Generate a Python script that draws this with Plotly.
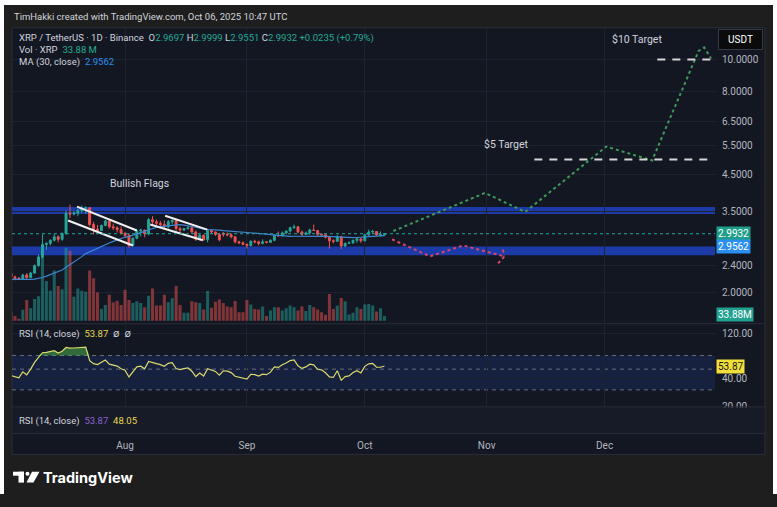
import numpy as np
import pandas as pd
import plotly.graph_objects as go

W, H = 777, 507
H_FIG = 499  # the page is rendered ~8px taller than the figure; keep drawing 1:1

# ---------------- data ----------------
dates = pd.date_range("2025-07-03", "2025-10-06", freq="D")

open_ = [2.28, 2.22, 2.20, 2.19, 2.25, 2.21, 2.28, 2.40, 2.55, 2.78, 2.80, 2.86, 2.93, 2.88, 3.00, 3.45,
         3.43, 3.45, 3.51, 3.56, 3.58, 3.19, 3.09, 3.06, 3.17, 3.27, 3.14, 3.12, 3.08, 3.00, 2.96, 2.76,
         2.90, 3.05, 3.07, 2.99, 3.30, 3.25, 3.22, 3.19, 3.14, 3.25, 3.28, 3.10, 3.07, 3.10, 3.12, 3.03,
         2.88, 2.96, 2.87, 3.06, 3.03, 2.98, 3.00, 2.98, 2.97, 2.93, 2.83, 2.81, 2.78, 2.76, 2.84, 2.83,
         2.80, 2.83, 2.82, 2.86, 2.96, 2.95, 3.01, 3.05, 3.12, 3.14, 3.03, 2.98, 3.01, 3.07, 3.06, 2.98,
         2.97, 2.92, 2.85, 2.84, 2.93, 2.75, 2.80, 2.81, 2.86, 2.89, 2.85, 2.97, 3.03, 3.04, 2.96, 2.9697]
high = [2.31, 2.24, 2.22, 2.27, 2.28, 2.30, 2.42, 2.59, 2.98, 2.82, 2.88, 2.99, 2.96, 3.02, 3.51, 3.66,
        3.50, 3.55, 3.64, 3.62, 3.60, 3.25, 3.18, 3.19, 3.30, 3.30, 3.21, 3.15, 3.15, 3.03, 3.00, 2.92,
        3.08, 3.10, 3.08, 3.34, 3.38, 3.30, 3.27, 3.28, 3.29, 3.33, 3.30, 3.14, 3.12, 3.15, 3.13, 3.06,
        3.00, 2.98, 3.09, 3.08, 3.04, 3.01, 3.03, 3.02, 3.00, 2.94, 2.85, 2.84, 2.80, 2.86, 2.87, 2.85,
        2.88, 2.84, 2.88, 2.98, 3.04, 3.04, 3.06, 3.14, 3.19, 3.15, 3.06, 3.04, 3.10, 3.19, 3.07, 3.00,
        2.99, 2.93, 2.88, 2.97, 2.95, 2.82, 2.84, 2.87, 2.92, 2.90, 2.99, 3.08, 3.08, 3.05, 3.04, 2.9999]
low = [2.20, 2.17, 2.18, 2.18, 2.19, 2.20, 2.27, 2.38, 2.52, 2.68, 2.76, 2.84, 2.82, 2.85, 2.97, 3.33,
       3.40, 3.38, 3.45, 3.43, 3.15, 2.98, 3.03, 3.05, 3.15, 3.10, 3.07, 3.02, 2.98, 2.92, 2.72, 2.74,
       2.88, 2.94, 2.92, 2.96, 3.19, 3.18, 3.15, 3.08, 3.10, 3.19, 3.05, 3.03, 3.05, 3.08, 2.99, 2.85,
       2.86, 2.85, 2.82, 3.00, 2.95, 2.84, 2.93, 2.94, 2.90, 2.80, 2.79, 2.77, 2.70, 2.74, 2.80, 2.76,
       2.78, 2.80, 2.81, 2.84, 2.94, 2.94, 2.98, 3.02, 3.10, 3.00, 2.95, 2.97, 2.97, 3.05, 2.95, 2.95,
       2.90, 2.70, 2.80, 2.83, 2.69, 2.73, 2.79, 2.79, 2.81, 2.81, 2.84, 2.95, 2.99, 2.95, 2.93, 2.9551]
close = [2.22, 2.20, 2.19, 2.25, 2.21, 2.28, 2.40, 2.55, 2.78, 2.80, 2.86, 2.93, 2.88, 3.00, 3.45, 3.43,
         3.45, 3.51, 3.56, 3.58, 3.19, 3.09, 3.06, 3.17, 3.27, 3.14, 3.12, 3.08, 3.00, 2.96, 2.76, 2.90,
         3.05, 3.07, 2.99, 3.30, 3.25, 3.22, 3.19, 3.14, 3.25, 3.28, 3.10, 3.07, 3.10, 3.12, 3.03, 2.88,
         2.96, 2.87, 3.06, 3.03, 2.98, 2.87, 2.98, 2.97, 2.93, 2.83, 2.81, 2.78, 2.76, 2.84, 2.83, 2.80,
         2.83, 2.82, 2.86, 2.96, 2.95, 3.01, 3.05, 3.12, 3.14, 3.03, 2.98, 3.01, 3.07, 3.06, 2.98, 2.97,
         2.92, 2.85, 2.84, 2.93, 2.75, 2.80, 2.81, 2.86, 2.89, 2.85, 2.97, 3.03, 3.04, 2.97, 2.97, 2.9932]
volume_m = [67, 34, 14, 79, 151, 91, 158, 178, 533, 290, 218, 367, 254, 230, 533, 511,
            175, 235, 218, 211, 367, 310, 206, 86, 115, 190, 134, 146, 115, 226, 151, 130,
            142, 130, 98, 182, 235, 110, 110, 190, 134, 163, 254, 115, 58, 58, 142, 134,
            130, 82, 216, 94, 139, 154, 130, 103, 98, 144, 62, 62, 151, 118, 86, 82,
            103, 34, 74, 98, 98, 74, 91, 110, 98, 74, 103, 70, 115, 98, 82, 62,
            43, 194, 86, 110, 166, 142, 46, 58, 98, 86, 118, 122, 110, 67, 91, 33.88]
# closes before the visible window (warm-up for MA / RSI)
june_close = [2.24, 2.16, 2.19, 2.23, 2.26, 2.30, 2.33, 2.27, 2.19, 2.15, 2.17, 2.18, 2.23, 2.17, 2.17,
              2.16, 2.11, 2.04, 1.97, 2.17, 2.18, 2.18, 2.11, 2.13, 2.17, 2.21, 2.18, 2.18, 2.21]

ma_period = 30
rsi_period = 14

month_ticks = ["2025-08-01", "2025-09-01", "2025-10-01", "2025-11-01", "2025-12-01"]
month_labels = ["Aug", "Sep", "Oct", "Nov", "Dec"]
price_ticks = [2.0, 2.4, 3.5, 4.5, 5.5, 6.5, 8.0, 10.0]
rsi_ticks = [20, 40, 120]
rsi_levels = [30, 50, 70]

upper_zone = [3.43, 3.60]
lower_zone = [2.58, 2.74]

flag1_upper_d = ["2025-07-19 19:00", "2025-08-04 00:00"]
flag1_upper_p = [3.61, 3.06]
flag1_lower_d = ["2025-07-17 12:00", "2025-08-03 00:00"]
flag1_lower_p = [3.28, 2.76]
flag2_upper_d = ["2025-08-11 05:00", "2025-08-21 22:00"]
flag2_upper_p = [3.39, 3.08]
flag2_lower_d = ["2025-08-07 10:00", "2025-08-20 19:00"]
flag2_lower_p = [3.19, 2.86]

bull_d = ["2025-10-08 06:00", "2025-10-31 14:00", "2025-11-10 19:00", "2025-12-01 10:00",
          "2025-12-13 02:00", "2025-12-24 22:00", "2025-12-26 08:00", "2025-12-28 02:00"]
bull_p = [3.05, 3.97, 3.48, 5.47, 4.97, 10.6, 10.86, 10.07]
bear_d = ["2025-10-07 22:00", "2025-10-17 14:00", "2025-10-26 00:00", "2025-11-05 10:00", None,
          "2025-11-03 22:00", "2025-11-05 22:00", None, "2025-11-05 04:00", "2025-11-05 10:00"]
bear_p = [2.88, 2.56, 2.76, 2.56, None, 2.44, 2.59, None, 2.68, 2.56]

target5_d = ["2025-11-13 03:00", "2025-12-27 03:00"]
target5_p = [5.0, 5.0]
target10_d = ["2025-12-14 10:00", "2025-12-28 22:00"]
target10_p = [10.0, 10.0]

last_price = 2.9932
last_ma_label = 2.9562
last_rsi_label = 53.87

# ---------------- derived series ----------------
all_close = pd.Series(june_close + close, dtype=float)
ma = all_close.rolling(ma_period).mean().iloc[len(june_close):].to_numpy()
delta = all_close.diff()
gain = delta.clip(lower=0)
loss = -delta.clip(upper=0)
avg_g = gain.ewm(alpha=1 / rsi_period, adjust=False).mean()
avg_l = loss.ewm(alpha=1 / rsi_period, adjust=False).mean()
rsi_all = 100 - 100 / (1 + avg_g / avg_l)
rsi = rsi_all.iloc[len(june_close):].to_numpy()

UP = "#26a69a"
DN = "#ef5350"
vol_colors = ["rgba(38,166,154,0.5)" if c >= o else "rgba(239,83,80,0.5)" for o, c in zip(open_, close)]

BG = "#131722"
GRID = "#1f2330"
AXT = "#b2b5be"
FONT = "Roboto, Inter, sans-serif"


def px(x):
    return x / W


def py(y):
    return 1 - y / H_FIG


fig = go.Figure()

fig.add_trace(go.Bar(x=dates, y=volume_m, marker=dict(color=vol_colors, line=dict(width=0)),
                     xaxis="x", yaxis="y", hoverinfo="skip", showlegend=False))
fig.add_trace(go.Candlestick(x=dates, open=open_, high=high, low=low, close=close,
                             xaxis="x", yaxis="y2", whiskerwidth=0,
                             increasing=dict(line=dict(color=UP, width=1), fillcolor=UP),
                             decreasing=dict(line=dict(color=DN, width=1), fillcolor=DN),
                             showlegend=False, hoverinfo="skip"))
fig.add_trace(go.Scatter(x=dates, y=ma, mode="lines", line=dict(color="#3d86d0", width=1.2),
                         xaxis="x", yaxis="y2", showlegend=False, hoverinfo="skip"))
for fd, fp in [(flag1_upper_d, flag1_upper_p), (flag1_lower_d, flag1_lower_p),
               (flag2_upper_d, flag2_upper_p), (flag2_lower_d, flag2_lower_p)]:
    fig.add_trace(go.Scatter(x=fd, y=fp, mode="lines", line=dict(color="#f0f0f0", width=2),
                             xaxis="x", yaxis="y2", showlegend=False, hoverinfo="skip"))
fig.add_trace(go.Scatter(x=bull_d, y=bull_p, mode="lines", line=dict(color="#3f9a5a", width=2, dash="dot"),
                         xaxis="x", yaxis="y2", showlegend=False, hoverinfo="skip"))
fig.add_trace(go.Scatter(x=bear_d, y=bear_p, mode="lines", line=dict(color="#d9466a", width=2, dash="dot"),
                         xaxis="x", yaxis="y2", showlegend=False, hoverinfo="skip", connectgaps=False))
for td, tp in [(target5_d, target5_p), (target10_d, target10_p)]:
    fig.add_trace(go.Scatter(x=td, y=tp, mode="lines", line=dict(color="#d6d6d6", width=2, dash="8px,7px"),
                             xaxis="x", yaxis="y2", showlegend=False, hoverinfo="skip"))

# RSI
fig.add_trace(go.Scatter(x=dates, y=[70] * len(dates), mode="lines", line=dict(width=0),
                         xaxis="x2", yaxis="y3", showlegend=False, hoverinfo="skip"))
fig.add_trace(go.Scatter(x=dates, y=np.maximum(rsi, 70), mode="lines", line=dict(width=0),
                         fill="tonexty", fillcolor="rgba(76,175,80,0.55)",
                         xaxis="x2", yaxis="y3", showlegend=False, hoverinfo="skip"))
fig.add_trace(go.Scatter(x=dates, y=rsi, mode="lines", line=dict(color="#dcd96c", width=1.2),
                         xaxis="x2", yaxis="y3", showlegend=False, hoverinfo="skip"))
fig.add_trace(go.Scatter(x=[dates[0]], y=[0.5], mode="markers", marker=dict(opacity=0),
                         xaxis="x3", yaxis="y4", showlegend=False, hoverinfo="skip"))

dom_x = [px(12), px(715)]
x_range = ["2025-07-03 06:00", "2025-12-29 02:00"]

fig.update_layout(
    width=W, height=H_FIG, margin=dict(l=0, r=0, t=0, b=0),
    paper_bgcolor="#1e1e1e", plot_bgcolor=BG, bargap=0.22,
    font=dict(family=FONT, size=10, color=AXT),
    xaxis=dict(domain=dom_x, type="date", range=x_range, anchor="y", showticklabels=False,
               showgrid=True, gridcolor=GRID, tickvals=month_ticks, zeroline=False,
               rangeslider=dict(visible=False), showline=False),
    yaxis=dict(domain=[py(326), py(28)], range=[-15, 2140], visible=False, showgrid=False),
    yaxis2=dict(overlaying="y", anchor="x", type="log", side="right",
                range=[np.log10(1.617), np.log10(12.45)],
                tickvals=price_ticks, ticktext=[f"{v:.4f}" for v in price_ticks],
                showgrid=True, gridcolor=GRID, zeroline=False, ticks="",
                ticklabelstandoff=6, tickfont=dict(size=10, color=AXT, family=FONT)),
    xaxis2=dict(domain=dom_x, type="date", matches="x", anchor="y3", showticklabels=False,
                showgrid=True, gridcolor=GRID, tickvals=month_ticks, zeroline=False),
    yaxis3=dict(domain=[py(411), py(328)], anchor="x2", type="log", side="right",
                range=[1.2951, 2.1743], tickvals=rsi_ticks,
                ticktext=[f"{v:.2f}" for v in rsi_ticks], showgrid=True, gridcolor=GRID,
                zeroline=False, ticks="", ticklabelstandoff=6,
                tickfont=dict(size=10, color=AXT, family=FONT)),
    xaxis3=dict(domain=dom_x, type="date", matches="x", anchor="y4", showgrid=False,
                tickvals=month_ticks, ticktext=month_labels, ticks="", zeroline=False,
                ticklabelstandoff=4, tickfont=dict(size=10, color=AXT, family=FONT)),
    yaxis4=dict(domain=[py(438), py(411)], anchor="x3", range=[0, 1], visible=False),
)

shapes = [
    dict(type="rect", xref="paper", yref="paper", x0=0, x1=px(4), y0=0, y1=1,
         fillcolor="white", line=dict(width=0), layer="below"),
    dict(type="rect", xref="paper", yref="paper", x0=px(773), x1=1, y0=0, y1=1,
         fillcolor="white", line=dict(width=0), layer="below"),
    dict(type="rect", xref="paper", yref="paper", x0=0, x1=1, y0=py(5), y1=1,
         fillcolor="white", line=dict(width=0), layer="below"),
    dict(type="rect", xref="paper", yref="paper", x0=px(12), x1=px(765), y0=py(459), y1=py(28),
         fillcolor=BG, line=dict(color="#2a2e39", width=1), layer="below"),
    # second (empty) pane drawn on top so the lowest RSI tick label is clipped like the original
    dict(type="rect", xref="paper", yref="paper", x0=px(12.5), x1=px(764.5), y0=py(438), y1=py(411.5),
         fillcolor="#171b27", line=dict(width=0), layer="above"),
]
for yy in [327, 411, 438]:
    shapes.append(dict(type="line", xref="paper", yref="paper", x0=px(12), x1=px(765), y0=py(yy), y1=py(yy),
                       line=dict(color="#2a2e39", width=1)))
for z in [upper_zone, lower_zone]:
    shapes.append(dict(type="rect", xref="x domain", yref="y2", x0=0, x1=1, y0=z[0], y1=z[1],
                       fillcolor="#1c3ba8", line=dict(width=0), layer="below"))
shapes.append(dict(type="line", xref="x domain", yref="y2", x0=0, x1=1, y0=last_price, y1=last_price,
                   line=dict(color="#26a69a", width=1, dash="dot")))
shapes.append(dict(type="rect", xref="x2 domain", yref="y3", x0=0, x1=1, y0=rsi_levels[0], y1=rsi_levels[2],
                   fillcolor="rgba(41,82,220,0.16)", line=dict(width=0), layer="below"))
for lv in rsi_levels:
    shapes.append(dict(type="line", xref="x2 domain", yref="y3", x0=0, x1=1, y0=lv, y1=lv,
                       line=dict(color="#6b6f7c", width=1, dash="4px,4px"), layer="below"))
# TradingView logo
shapes += [
    dict(type="rect", xref="paper", yref="paper", x0=px(13), x1=px(24), y0=py(480.5), y1=py(476.5),
         fillcolor="white", line=dict(width=0)),
    dict(type="rect", xref="paper", yref="paper", x0=px(18.5), x1=px(24), y0=py(487.5), y1=py(476.5),
         fillcolor="white", line=dict(width=0)),
    dict(type="circle", xref="paper", yref="paper", x0=px(25.5), x1=px(29.5), y0=py(480.5), y1=py(476.5),
         fillcolor="white", line=dict(width=0)),
    dict(type="path", xref="paper", yref="paper",
         path=f"M {px(32)} {py(476.5)} L {px(39.5)} {py(476.5)} L {px(33.5)} {py(487.5)} L {px(26.5)} {py(487.5)} Z",
         fillcolor="white", line=dict(width=0)),
]
fig.update_layout(shapes=shapes)

G = "#22ab94"
sp = "\u2002"
ann = []


def add_text(text, x, y, size=9.5, color="#d1d4dc"):
    ann.append(dict(text=text, x=x, y=y, xref="paper", yref="paper", xanchor="left", yanchor="middle",
                    showarrow=False, font=dict(size=size, color=color, family=FONT)))


add_text("TimHakki created with TradingView.com, Oct 06, 2025 10:47 UTC", px(12), py(17))
legend1 = ("XRP / TetherUS · 1D · Binance" + sp +
           f"O<span style='color:{G}'>2.9697</span> H<span style='color:{G}'>2.9999</span> "
           f"L<span style='color:{G}'>2.9551</span> C<span style='color:{G}'>2.9932</span> "
           f"<span style='color:{G}'>+0.0235 (+0.79%)</span>")
add_text(legend1, px(17), py(38))
add_text(f"Vol · XRP{sp}<span style='color:{G}'>33.88 M</span>", px(17), py(50))
add_text(f"MA (30, close){sp}<span style='color:#2a8ff0'>2.9562</span>", px(17), py(63))
add_text(f"RSI (14, close){sp}<span style='color:#e8d84a'>53.87</span>{sp}∅{sp}∅", px(17), py(337))
add_text(f"RSI (14, close){sp}<span style='color:#8a62d0'>53.87</span>{sp}<span style='color:#e8d84a'>48.05</span>",
         px(17), py(425))
ann.append(dict(text="<b>TradingView</b>", x=px(41), y=py(482), xref="paper", yref="paper", xanchor="left",
                yanchor="middle", showarrow=False, font=dict(size=14.5, color="white", family="Inter, sans-serif")))
for txt, d, p in [("$10 Target", "2025-12-09 07:00", 11.47), ("$5 Target", "2025-11-06 00:00", 5.55),
                  ("Bullish Flags", "2025-08-04 19:00", 4.25)]:
    ann.append(dict(text=txt, x=d, y=np.log10(p), xref="x", yref="y2", showarrow=False,
                    xanchor="center", yanchor="middle",
                    font=dict(size=10.5, color="#d1d4dc", family=FONT)))
ann.append(dict(text=f"{sp}USDT{sp}", x=px(740), y=py(39.5), xref="paper", yref="paper", showarrow=False,
                xanchor="center", yanchor="middle",
                bgcolor="#0b0b0b", bordercolor="#363a45", borderwidth=1, borderpad=4,
                font=dict(size=10, color="white", family=FONT)))
ann.append(dict(text=f"{last_price:.4f}", x=px(716), y=np.log10(last_price), xref="paper", yref="y2",
                xanchor="left", yanchor="middle", showarrow=False, bgcolor="#1e9e88", borderpad=1,
                font=dict(size=10, color="white", family=FONT)))
ann.append(dict(text=f"{last_ma_label:.4f}", x=px(716), y=np.log10(last_ma_label), xref="paper", yref="y2",
                xanchor="left", yanchor="middle", yshift=-11, showarrow=False, bgcolor="#2a8ff0", borderpad=1,
                font=dict(size=10, color="white", family=FONT)))
ann.append(dict(text=f"{volume_m[-1]:.2f}M", x=px(716), y=py(318), xref="paper", yref="paper", xanchor="left",
                yanchor="middle", showarrow=False, bgcolor="#22a090", borderpad=1,
                font=dict(size=10, color="white", family=FONT)))
ann.append(dict(text=f"{last_rsi_label:.2f}", x=px(716), y=np.log10(last_rsi_label), xref="paper", yref="y3",
                xanchor="left", yanchor="middle", showarrow=False, bgcolor="#f2e03a", borderpad=1,
                font=dict(size=10, color="#131722", family=FONT)))
fig.update_layout(annotations=ann)

fig.write_html("out.html",
               post_script="document.body.style.margin='0';document.body.style.background='#1e1e1e';")
